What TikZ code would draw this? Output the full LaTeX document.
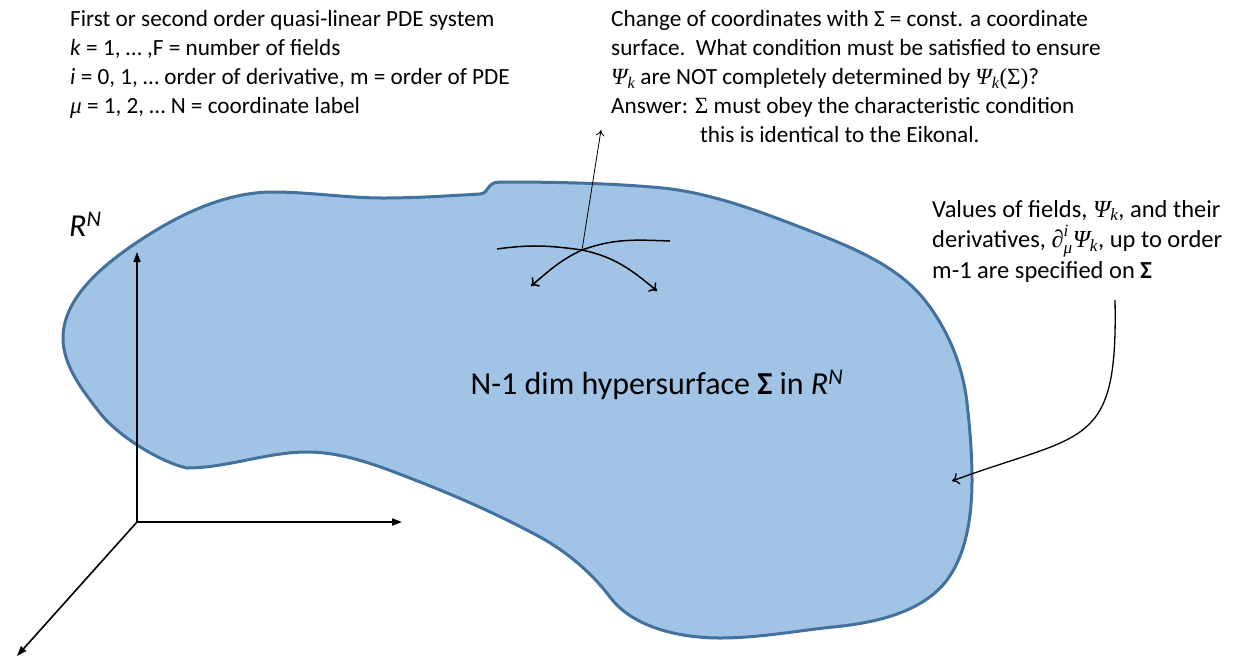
\documentclass[tikz,border=0pt]{standalone}
\usepackage{amsmath}
\usepackage{fontspec}
\setmainfont{Carlito}
\newfontfamily\symface{Liberation Serif}
\usetikzlibrary{arrows.meta}

\definecolor{sheetfill}{HTML}{A0C3E6}
\definecolor{sheetedge}{HTML}{41719C}

% italic and upright symbols set in a serif face
\newcommand{\si}[1]{\text{\symface\itshape #1}}
\newcommand{\su}[1]{\text{\symface #1}}
\newcommand{\Psik}{$\si{Ψ}_{\si{k}}$}

\tikzset{
  note/.style={align=left, anchor=north west, inner sep=0pt,
               font=\fontsize{23.2}{29}\selectfont},
  biglabel/.style={inner sep=0pt, font=\fontsize{32}{38}\selectfont},
  sheet/.style={fill=sheetfill, draw=sheetedge, line width=3pt, line join=round},
  axis/.style={line width=1.6pt, -{Triangle[length=10pt,width=7pt]}},
  wave/.style={line width=1.5pt, -{To[length=7pt,width=12pt]}},
  normal/.style={line width=0.8pt, -{To[length=6pt,width=9pt]}},
  pointer/.style={line width=1.3pt, -{To[length=7pt,width=12pt]}},
}

\begin{document}
\begin{tikzpicture}[x=1pt,y=-1pt]
\useasboundingbox (0,0) rectangle (1242,657);

% the hypersurface sheet
\path[sheet] (63,338)
  .. controls (63,299) and (101,267) .. (133,245)
  .. controls (174,217) and (223,192) .. (273,192)
  .. controls (310,192) and (346,198) .. (383,198)
  .. controls (415,198) and (446,196) .. (480,194)
  .. controls (490,193) and (486,182) .. (500,182)
  .. controls (554,182) and (609,183) .. (663,188)
  .. controls (710,193) and (756,210) .. (800,227)
  .. controls (846,245) and (898,264) .. (927,303)
  .. controls (949,332) and (963,367) .. (967,403)
  .. controls (970,429) and (972,454) .. (972,480)
  .. controls (972,514) and (967,553) .. (947,580)
  .. controls (922,613) and (874,623) .. (833,627)
  .. controls (795,631) and (758,638) .. (720,638)
  .. controls (681,638) and (633,628) .. (610,597)
  .. controls (591,572) and (567,552) .. (540,537)
  .. controls (501,516) and (461,498) .. (420,482)
  .. controls (384,468) and (346,452) .. (307,452)
  .. controls (267,452) and (227,468) .. (187,468)
  .. controls (160,462) and (118,436) .. (100,413)
  .. controls (83,391) and (63,366) .. cycle;

% coordinate axes
\coordinate (o) at (137,522);
\coordinate (ax) at (402,522);
\coordinate (ay) at (137,252);
\coordinate (az) at (17,656);
\draw[axis] (o) -- (ay);
\draw[axis] (o) -- (ax);
\draw[axis] (o) -- (az);

% two crossing curves on the sheet and the normal
\coordinate (c) at (582,250);
\coordinate (a1) at (497,249);
\coordinate (a2) at (657,291);
\coordinate (b1) at (670,241);
\coordinate (b2) at (531,286);
\coordinate (n) at (601,130);
\draw[wave] (a1) to[out=8,in=172] (c) to[out=-12,in=140] (a2);
\draw[wave] (b1) to[out=178,in=20] (c) to[out=205,in=40] (b2);
\draw[normal] (c) -- (n);

% labels
\node[biglabel, anchor=base west] (rn) at (69,236) {\textit{R}\textsuperscript{\textit{N}}};
\node[biglabel, anchor=base] (hs) at (657,394)
  {N-1 dim hypersurface \textbf{Σ} in \textit{R}\textsuperscript{\textit{N}}};

\node[note] (pde) at (70,10) {First or second order quasi-linear PDE system\\
  \textit{k} = 1, … ,F = number of fields\\
  \textit{i} = 0, 1, … order of derivative, m = order of PDE\\
  $\si{μ}$ = 1, 2, … N = coordinate label};

\node[note] (cond) at (611,10) {Change of coordinates with Σ = const. a coordinate\\
  surface.\ \ What condition must be satisfied to ensure\\
  \Psik{} are NOT completely determined by $\si{Ψ}_{\si{k}}\su{(Σ)}$?\\
  Answer: $\su{Σ}$ must obey the characteristic condition\\
  \hspace*{89pt}this is identical to the Eikonal.};

\node[note, font=\fontsize{24.5}{30.5}\selectfont] (vals) at (932,200)
  {Values of fields, \Psik, and their\\
  derivatives, $\su{∂}^{\si{i}}_{\si{μ}}\si{Ψ}_{\si{k}}$, up to order\\
  m-1 are specified on \textbf{Σ}};

% pointer from the note to the sheet
\coordinate (r1) at (1115,300);
\coordinate (r2) at (952,481);
\draw[pointer] (r1) .. controls (1118,450) and (1085,432) .. (r2);
\end{tikzpicture}
\end{document}
